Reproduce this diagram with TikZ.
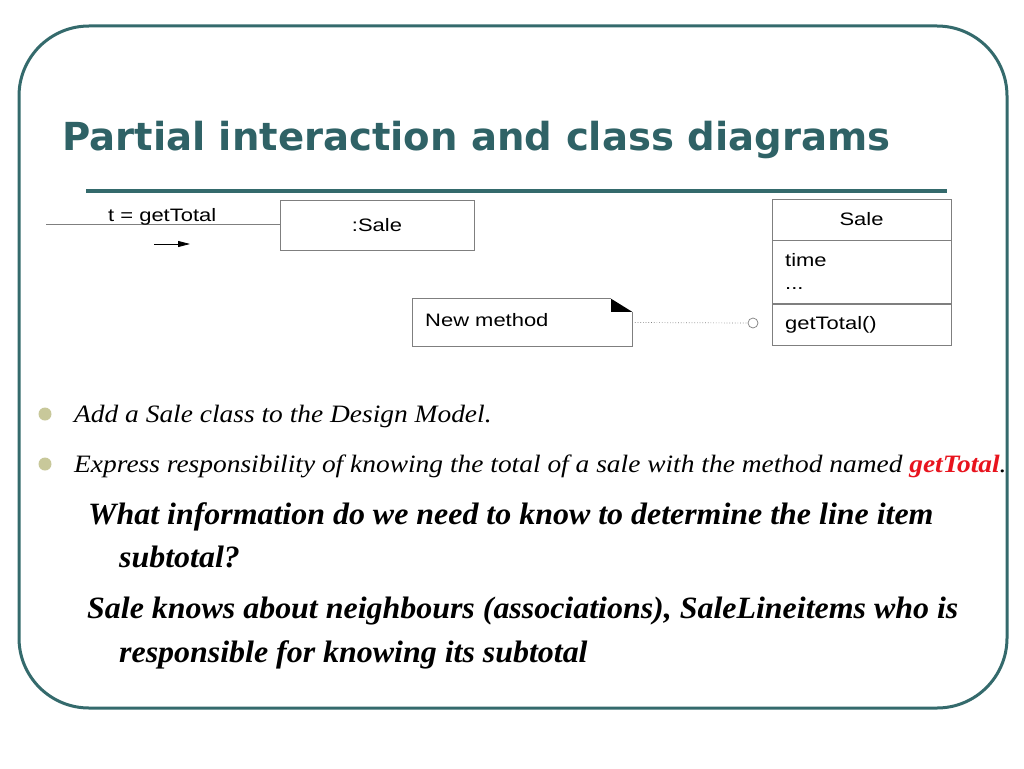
\documentclass[tikz,border=0pt]{standalone}
\usepackage{fontspec}
\setmainfont{Liberation Serif}
\setsansfont{Liberation Sans}
\newfontfamily\titlefont{DejaVu Sans}
\usepackage{xcolor}
\usepackage{tikz}
\usetikzlibrary{positioning,arrows.meta,calc}
\definecolor{slideteal}{HTML}{346A6C}
\definecolor{slidetitle}{HTML}{2F6266}
\definecolor{slidebullet}{HTML}{C8C89A}
\definecolor{umlline}{HTML}{7F7F7F}
\definecolor{keyred}{HTML}{E8141E}
\newcommand{\umlw}[1]{\scalebox{1.22}[1]{#1}}
\newcommand{\bodyw}[1]{\scalebox{1.097}[1]{#1}}
\newcommand{\bigw}[1]{\scalebox{1.03}[1]{#1}}

\begin{document}
\begin{tikzpicture}[x=1pt,y=-1pt,
  umlbox/.style={draw=umlline,line width=0.8pt,inner sep=0pt,font=\sffamily\fontsize{18}{21}\selectfont},
  umltext/.style={inner sep=0pt,font=\sffamily\fontsize{18}{21}\selectfont,anchor=base west},
  bullettext/.style={inner sep=0pt,anchor=base west,font=\fontsize{25}{30}\selectfont\itshape},
  bigtext/.style={inner sep=0pt,anchor=base west,font=\fontsize{31}{36}\selectfont\bfseries\itshape},
  dot/.style={circle,fill=slidebullet,minimum size=13pt,inner sep=0pt},
  msgarr/.style={-{Triangle[length=12pt,width=6pt]},line width=0.8pt}
]
\useasboundingbox (0,0) rectangle (1024,768);
\fill[white] (0,0) rectangle (1024,768);
\draw[slideteal,line width=3pt,rounded corners=70pt] (19,26) rectangle (1007,708);

% title
\node[inner sep=0pt,anchor=base west,text=slidetitle,font=\titlefont\bfseries\fontsize{38.6}{46}\selectfont] (title) at (62,150) {Partial interaction and class diagrams};
\draw[slideteal,line width=4pt] (86,191) -- (947,191);

% interaction diagram
\node[umlbox,minimum width=194pt,minimum height=50pt] (sale) at (377,225) {\umlw{:Sale}};
\coordinate (caller) at (46,224);
\draw[umlline,line width=0.8pt] (caller) -- (sale.west |- caller);
\node[umltext] (msg) at (108,221) {\umlw{t = getTotal}};
\coordinate (arrfrom) at (154,244);
\coordinate (arrto) at (190,244);
\draw[msgarr] (arrfrom) -- (arrto);

% class
\node[umlbox,minimum width=179pt,minimum height=41pt] (clsname) at (861.5,219.5) {\umlw{Sale}};
\node[umlbox,minimum width=179pt,minimum height=63pt,below=0pt of clsname] (clsattr) {};
\node[umlbox,minimum width=179pt,minimum height=41pt,below=0pt of clsattr] (clsops) {};
\node[umltext] (attrtime) at (785,266) {\umlw{time}};
\node[umltext] (attrmore) at (785,289) {\umlw{...}};
\node[umltext] (optotal) at (785,329) {\umlw{getTotal()}};

% note
\node[minimum width=219pt,minimum height=47pt,inner sep=0pt] (note) at (522.5,322.5) {};
\node[umltext] (notetext) at (425,326) {\umlw{New method}};
\fill ($(note.north east)+(-21,0)$) -- ++(0,13) -- ++(21,0) -- cycle;
\draw[umlline,line width=0.8pt] ($(note.north east)+(-21,0)$) -- (note.north west) -- (note.south west) -- (note.south east) -- ($(note.north east)+(0,13)$);
\node[circle,draw=umlline,line width=0.7pt,minimum size=10pt,inner sep=0pt] (attach) at (753,323) {};
\draw[umlline,dotted,line width=0.7pt] (note.east) -- (attach.west);

% bullets
\node[dot] (b1) at (45,414) {};
\node[dot] (b2) at (45,464) {};
\node[bullettext] (t1) at (74,422) {\bodyw{Add a Sale class to the Design Model.}};
\node[bullettext] (t2) at (74,472) {\bodyw{Express responsibility of knowing the total of a sale with the method named {\bfseries\color{keyred}getTotal}.}};
\node[bigtext] (q1) at (88,524) {\bigw{What information do we need to know to determine the line item}};
\node[bigtext] (q2) at (119,567) {\bigw{subtotal?}};
\node[bigtext] (a1) at (87,618) {\bigw{Sale knows about neighbours (associations), SaleLineitems who is}};
\node[bigtext] (a2) at (119,662) {\bigw{responsible for knowing its subtotal}};
\end{tikzpicture}
\end{document}
